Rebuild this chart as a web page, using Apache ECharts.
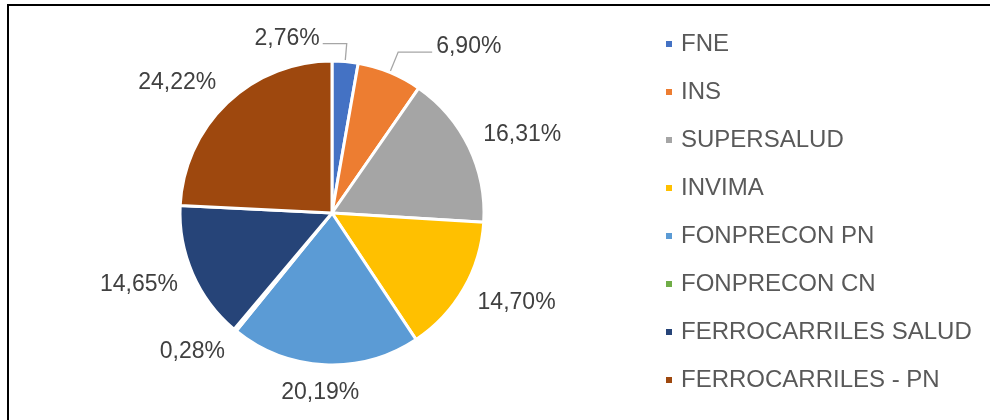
<!DOCTYPE html>
<html>
<head>
<meta charset="utf-8">
<script src="https://cdn.jsdelivr.net/npm/echarts@6/dist/echarts.min.js"></script>
<style>
  html, body { margin: 0; padding: 0; background: #fff; }
  #chart { width: 990px; height: 420px; }
</style>
</head>
<body>
<div id="chart"></div>
<script>
const entities = ['FNE', 'INS', 'SUPERSALUD', 'INVIMA', 'FONPRECON PN', 'FONPRECON CN', 'FERROCARRILES SALUD', 'FERROCARRILES - PN']
const shares = [2.76, 6.90, 16.31, 14.70, 20.19, 0.28, 14.65, 24.22]
const colors = ['#4472C4', '#ED7D31', '#A5A5A5', '#FFC000', '#5B9BD5', '#70AD47', '#264478', '#9E480E']

// labels that keep a leader line; the first one sits to the left of its elbow
const leaderLabels = { 0: 'left', 1: 'right' }

const chart = echarts.init(document.getElementById('chart'))
const fmt = (v) => v.toFixed(2).replace('.', ',') + '%'
const clamp = (v) => Math.max(-1, Math.min(1, v))

chart.setOption({
  backgroundColor: '#fff',
  animation: false,
  color: colors,
  textStyle: { fontFamily: 'Liberation Sans, Arial, sans-serif' },
  graphic: [{
    type: 'rect',
    shape: { x: 8, y: 5, width: 1200, height: 800 },
    style: { fill: 'none', stroke: '#000', lineWidth: 2 },
    silent: true,
  }],
  legend: {
    orient: 'vertical',
    left: 664,
    top: 32,
    padding: 0,
    icon: 'rect',
    itemWidth: 8,
    itemHeight: 8,
    itemGap: 24,
    textStyle: { color: '#595959', fontSize: 24, lineHeight: 24, padding: [0, 0, 0, 3] },
    data: entities,
  },
  series: [{
    type: 'pie',
    center: [332, 213],
    radius: 152,
    startAngle: 90,
    clockwise: true,
    avoidLabelOverlap: false,
    itemStyle: { borderColor: '#fff', borderWidth: 3 },
    label: {
      show: true,
      position: 'outside',
      color: '#404040',
      fontSize: 23,
      formatter: (p) => fmt(p.value),
    },
    labelLine: {
      show: false,
      length: 20,
      length2: 10,
      lineStyle: { color: '#a6a6a6', width: 1.3 },
    },
    labelLayout: (params) => {
      const pts = params.labelLinePoints
      if (!pts) return {}
      const p0 = pts[0], p1 = pts[1]
      const dx = p1[0] - p0[0], dy = p1[1] - p0[1]
      const len = Math.hypot(dx, dy) || 1
      const ux = dx / len, uy = dy / len
      const w = params.labelRect.width, h = params.labelRect.height
      const side = leaderLabels[params.dataIndex]
      if (side === 'left') {
        const end = [p1[0] - 24, p1[1]]
        return { x: end[0] - 3, y: p1[1] - 5, align: 'right', verticalAlign: 'middle', labelLinePoints: [p0, p1, end] }
      }
      if (side === 'right') {
        const end = [p1[0] + 34, p1[1]]
        return { x: end[0] + 4, y: p1[1] - 5, align: 'left', verticalAlign: 'middle', labelLinePoints: [p0, p1, end] }
      }
      const gap = 16
      return {
        x: p0[0] + ux * gap + clamp(ux * 2) * w / 2,
        y: p0[1] + uy * gap + uy * h / 2,
        align: 'center',
        verticalAlign: 'middle',
      }
    },
    data: entities.map((name, i) => ({
      name,
      value: shares[i],
      labelLine: leaderLabels[i] ? { show: true, length: i === 0 ? 18 : 22, length2: 0 } : undefined,
    })),
  }],
})
</script>
</body>
</html>
